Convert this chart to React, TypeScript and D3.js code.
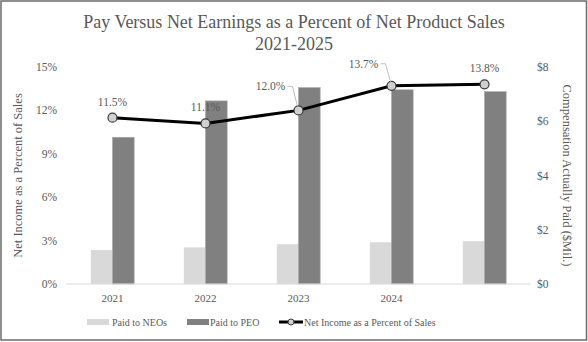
import React from 'react';
import * as d3 from 'd3';

const years = ['2021', '2022', '2023', '2024', '2025'];
const yearLabels = ['2021', '2022', '2023', '2024', ''];
const paidToNeos = [1.25, 1.35, 1.47, 1.54, 1.58];
const paidToPeo = [5.41, 6.75, 7.24, 7.16, 7.09];
const netIncomePct = [11.5, 11.1, 12.0, 13.7, 13.8];
const pctTicks = [0, 3, 6, 9, 12, 15];
const payTicks = [0, 2, 4, 6, 8];

const width = 588, height = 342;
const margin = { top: 67, right: 57, bottom: 58, left: 66 };
const font = '"Liberation Serif", "Times New Roman", serif';
const textColor = '#595959';

// labels that sit off to the left of their point with a small leader line
const leaderLabels: Record<number, { dx: number; dy: number }> = {
  2: { dx: -28, dy: -24 },
  3: { dx: -28, dy: -22 },
};

const App = () => {
  const x = d3.scaleBand().domain(years).range([margin.left, width - margin.right]);
  const yPct = d3.scaleLinear().domain([0, 15]).range([height - margin.bottom, margin.top]);
  const yPay = d3.scaleLinear().domain([0, 8]).range([height - margin.bottom, margin.top]);
  const barW = x.bandwidth() * 0.233;
  const cx = (i: number) => (x(years[i]) as number) + x.bandwidth() / 2;

  const line = d3.line<number>()
    .x((d, i) => cx(i))
    .y((d) => yPct(d));

  const base = height - margin.bottom;

  return (
    <svg width={width} height={height} style={{ position: 'absolute', left: 0, top: 0, fontFamily: font }}>
      <rect x={1} y={1} width={width - 2.5} height={height - 3} fill="#fff" stroke="#6b6b6b" strokeWidth={1.5} />

      <text x={width / 2} y={28} textAnchor="middle" fontSize={18} fill={textColor}>
        Pay Versus Net Earnings as a Percent of Net Product Sales
      </text>
      <text x={width / 2} y={50} textAnchor="middle" fontSize={18} fill={textColor}>2021-2025</text>

      {/* left axis */}
      {pctTicks.map((t) => (
        <text key={t} x={57} y={yPct(t) + 4} textAnchor="end" fontSize={11.5} fill={textColor}>{t}%</text>
      ))}
      <text transform={`translate(22,${(margin.top + base) / 2}) rotate(-90)`} textAnchor="middle" fontSize={12.5} fill={textColor}>
        Net Income as a Percent of Sales
      </text>

      {/* right axis */}
      {payTicks.map((t) => (
        <text key={t} x={537} y={yPay(t) + 4} textAnchor="start" fontSize={11.5} fill={textColor}>${t}</text>
      ))}
      <text transform={`translate(563,${(margin.top + base) / 2}) rotate(90)`} textAnchor="middle" fontSize={12.5} fill={textColor}>
        Compensation Actually Paid ($Mil.)
      </text>

      {/* bars */}
      {years.map((y, i) => (
        <g key={y}>
          <rect x={cx(i) - barW} y={yPay(paidToNeos[i])} width={barW} height={base - yPay(paidToNeos[i])} fill="#d9d9d9" />
          <rect x={cx(i)} y={yPay(paidToPeo[i])} width={barW} height={base - yPay(paidToPeo[i])} fill="#808080" stroke="#a6a6a6" strokeWidth={0.6} />
        </g>
      ))}

      <line x1={margin.left} x2={width - margin.right} y1={base} y2={base} stroke="#d9d9d9" strokeWidth={1} />

      {yearLabels.map((l, i) => (
        <text key={i} x={cx(i)} y={base + 18} textAnchor="middle" fontSize={11} fill={textColor}>{l}</text>
      ))}

      {/* net income line */}
      <path d={line(netIncomePct) || ''} fill="none" stroke="#000" strokeWidth={3} />
      {netIncomePct.map((v, i) => (
        <circle key={i} cx={cx(i)} cy={yPct(v)} r={4.5} fill="#d0d0d0" stroke="#3a3a3a" strokeWidth={1.2} />
      ))}

      {netIncomePct.map((v, i) => {
        const px = cx(i), py = yPct(v);
        const lead = leaderLabels[i];
        if (lead) {
          const tx = px + lead.dx, ty = py + lead.dy;
          return (
            <g key={i}>
              <polyline points={`${tx + 17},${ty} ${tx + 22},${ty} ${px - 1},${py - 4}`} fill="none" stroke="#bfbfbf" strokeWidth={1} />
              <text x={tx} y={ty + 4} textAnchor="middle" fontSize={11.5} fill={textColor}>{v.toFixed(1)}%</text>
            </g>
          );
        }
        return (
          <text key={i} x={px} y={py - 12} textAnchor="middle" fontSize={11.5} fill={textColor}>{v.toFixed(1)}%</text>
        );
      })}

      {/* legend */}
      <g fontSize={10} fill={textColor}>
        <rect x={87} y={319} width={22} height={6} fill="#d9d9d9" />
        <text x={112} y={326}>Paid to NEOs</text>
        <rect x={187} y={319} width={22} height={6} fill="#808080" />
        <text x={210} y={326}>Paid to PEO</text>
        <line x1={279} x2={303} y1={322} y2={322} stroke="#000" strokeWidth={3} />
        <circle cx={291} cy={322} r={3} fill="#d0d0d0" stroke="#3a3a3a" strokeWidth={1} />
        <text x={304} y={326}>Net Income as a Percent of Sales</text>
      </g>
    </svg>
  );
};

export default App;
